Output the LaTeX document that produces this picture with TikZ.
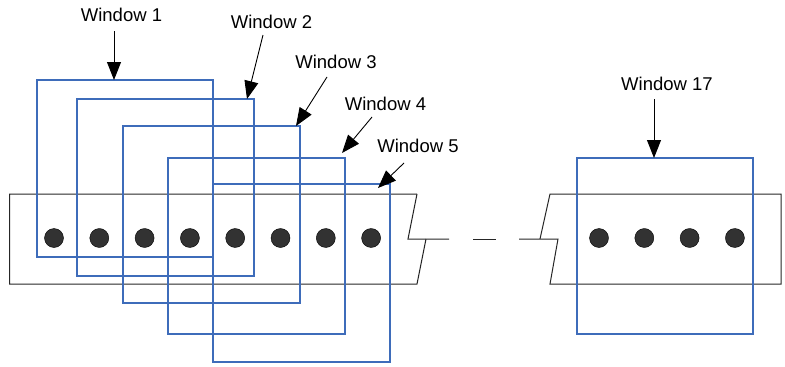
\documentclass[tikz,border=0pt]{standalone}
\usepackage{fontspec}
\setmainfont{Liberation Sans}
\usetikzlibrary{arrows.meta}
\definecolor{winblue}{RGB}{62,108,186}
\definecolor{dotgray}{RGB}{50,50,50}
\begin{document}
\begin{tikzpicture}[x=1pt,y=-1pt,
  win/.style={draw=winblue,line width=1.7pt},
  strip/.style={draw=black!85,line width=1pt},
  lbl/.style={font=\fontsize{18.5}{20}\selectfont,inner sep=0pt},
  ptr/.style={draw=black,line width=0.9pt,-{Triangle[length=18pt,width=14pt]}},
  dot/.style={circle,fill=dotgray,draw=black,line width=0.4pt,minimum size=19pt,inner sep=0pt}]
\useasboundingbox (0,0) rectangle (785,367);
% strip left part
\draw[strip] (417,194) -- (9.5,194) -- (9.5,284) -- (417,284) -- (426,239);
\draw[strip] (417,194) -- (408,239) -- (449,239);
\draw[strip] (473,239) -- (496,239);
% strip right part
\draw[strip] (519,239) -- (558,239) -- (550,284) -- (781,284) -- (781,194) -- (550,194) -- (540,239);
% dots
\foreach \x [count=\i] in {54,99.3,144.6,189.9,235.2,280.5,325.8,371.1}
  \node[dot] (d\i) at (\x,238) {};
\foreach \x [count=\i] in {599,644.3,689.6,734.9}
  \node[dot] (r\i) at (\x,238) {};
% windows
\draw[win] (37,80) rectangle (213,257);
\draw[win] (77,99) rectangle (254,276);
\draw[win] (123,126) rectangle (300,303);
\draw[win] (168,158) rectangle (345,334);
\draw[win] (213,184) rectangle (390,362);
\draw[win] (577,158) rectangle (753,334);
% labels
\node[lbl] (l1) at (121.5,15) {Window 1};
\node[lbl] (l2) at (271.5,22) {Window 2};
\node[lbl] (l3) at (336,62) {Window 3};
\node[lbl] (l4) at (385.5,104) {Window 4};
\node[lbl] (l5) at (418,146) {Window 5};
\node[lbl] (l17) at (667,84) {Window 17};
% arrow ends
\coordinate (s1) at (114,31);  \coordinate (t1) at (114,80);
\coordinate (s2) at (263,35);  \coordinate (t2) at (247,99);
\coordinate (s3) at (327,77);  \coordinate (t3) at (296,126);
\coordinate (s4) at (372,117); \coordinate (t4) at (342,153);
\coordinate (s5) at (404,163); \coordinate (t5) at (378,188);
\coordinate (s17) at (654,99); \coordinate (t17) at (654,158);
\foreach \k in {1,2,3,4,5,17}
  \draw[ptr] (s\k) -- (t\k);
\end{tikzpicture}
\end{document}
